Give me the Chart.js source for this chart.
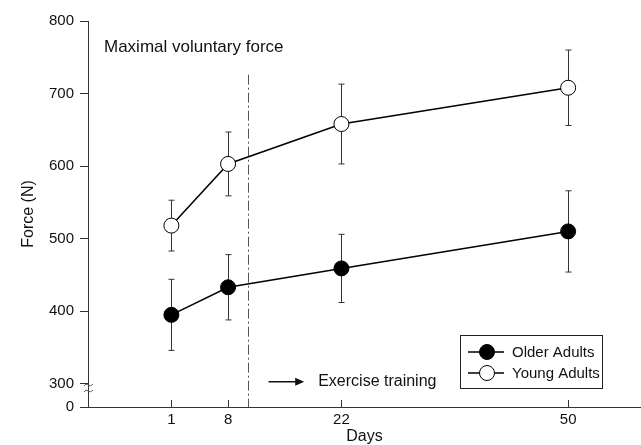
<!DOCTYPE html>
<html>
<head>
<meta charset="utf-8">
<script src="https://cdn.jsdelivr.net/npm/chart.js@4.4.1/dist/chart.umd.min.js"></script>
<style>
    html, body { margin: 0; padding: 0; background: #fff; }
    #wrap { width: 641px; height: 445px; }
</style>
</head>
<body>
<div id="wrap"><canvas id="forceChart" width="641" height="445"></canvas></div>
<script>
// values (Force in N)
const days = [1, 8, 22, 50];
const olderMean = [395, 433, 459, 510];
const olderErr = [49, 45, 47, 56];
const youngMean = [518, 603, 658, 708];
const youngErr = [35, 44, 55, 52];
const yTicks = [300, 400, 500, 600, 700, 800];
const yBreak = 268;          // bottom of the broken axis, labelled "0"
const trainingDay = 10.4;    // dashed marker where training starts
const trainingTop = 726;
const arrowFrom = [13, 300];
const arrowTo = [17.4, 300];

const font = '"Liberation Sans", Arial, sans-serif';
const ink = '#111';
const axisInk = '#333';

const errorBars = {
    id: 'errorBars',
    beforeDatasetsDraw(chart) {
        const ctx = chart.ctx;
        const x = chart.scales.x, y = chart.scales.y;
        const sets = [[olderMean, olderErr], [youngMean, youngErr]];
        ctx.save();
        ctx.strokeStyle = '#333';
        ctx.lineWidth = 1;
        sets.forEach(([mean, err]) => {
            days.forEach((d, i) => {
                const px = Math.round(x.getPixelForValue(d)) + 0.5;
                const top = y.getPixelForValue(mean[i] + err[i]);
                const bot = y.getPixelForValue(mean[i] - err[i]);
                ctx.beginPath();
                ctx.moveTo(px, top); ctx.lineTo(px, bot);
                ctx.moveTo(px - 3, top); ctx.lineTo(px + 3, top);
                ctx.moveTo(px - 3, bot); ctx.lineTo(px + 3, bot);
                ctx.stroke();
            });
        });
        ctx.restore();
    }
};

const extras = {
    id: 'extras',
    beforeDatasetsDraw(chart) {
        const ctx = chart.ctx;
        const x = chart.scales.x, y = chart.scales.y;
        const area = chart.chartArea;
        ctx.save();

        // training start marker
        const tx = Math.round(x.getPixelForValue(trainingDay)) + 0.5;
        ctx.strokeStyle = '#555';
        ctx.lineWidth = 1;
        ctx.setLineDash([10, 3, 2, 3]);
        ctx.beginPath();
        ctx.moveTo(tx, y.getPixelForValue(trainingTop));
        ctx.lineTo(tx, area.bottom);
        ctx.stroke();
        ctx.setLineDash([]);

        // inward x ticks
        ctx.strokeStyle = axisInk;
        days.forEach(d => {
            const px = Math.round(x.getPixelForValue(d)) + 0.5;
            ctx.beginPath();
            ctx.moveTo(px, area.bottom);
            ctx.lineTo(px, area.bottom - 7);
            ctx.stroke();
        });

        // axis break mark
        ctx.strokeStyle = '#555';
        const bx = area.left;
        [385, 391].forEach(by => {
            ctx.beginPath();
            ctx.moveTo(bx - 4, by + 1);
            ctx.bezierCurveTo(bx - 1, by - 4, bx + 1, by + 4, bx + 5, by - 1);
            ctx.stroke();
        });

        // arrow + label
        const ax0 = x.getPixelForValue(arrowFrom[0]);
        const ax1 = x.getPixelForValue(arrowTo[0]);
        const ay = y.getPixelForValue(arrowFrom[1]) - 2;
        ctx.strokeStyle = ink;
        ctx.fillStyle = ink;
        ctx.lineWidth = 1.5;
        ctx.beginPath();
        ctx.moveTo(ax0, ay); ctx.lineTo(ax1 - 4, ay);
        ctx.stroke();
        ctx.beginPath();
        ctx.moveTo(ax1, ay); ctx.lineTo(ax1 - 9, ay - 4); ctx.lineTo(ax1 - 9, ay + 4);
        ctx.closePath();
        ctx.fill();
        ctx.font = '16px ' + font;
        ctx.textBaseline = 'middle';
        ctx.fillText('Exercise training', ax1 + 14, ay);

        // panel heading
        ctx.font = '17px ' + font;
        ctx.fillText('Maximal voluntary force', 104, 47);
        ctx.restore();
    },
    afterDatasetsDraw(chart) {
        // legend box inside the plot
        const ctx = chart.ctx;
        ctx.save();
        ctx.strokeStyle = '#222';
        ctx.lineWidth = 1;
        ctx.strokeRect(460.5, 335.5, 142, 53);
        ctx.font = '15px ' + font;
        ctx.textBaseline = 'middle';
        chart.data.datasets.forEach((ds, i) => {
            const ly = 352 + i * 21;
            ctx.beginPath();
            ctx.moveTo(468, ly); ctx.lineTo(504, ly);
            ctx.strokeStyle = ds.borderColor;
            ctx.lineWidth = 1.5;
            ctx.stroke();
            ctx.beginPath();
            ctx.arc(487, ly, 7.5, 0, Math.PI * 2);
            ctx.fillStyle = ds.pointBackgroundColor;
            ctx.fill();
            ctx.lineWidth = 1;
            ctx.stroke();
            ctx.fillStyle = ink;
            ctx.fillText(ds.label, 512, ly + 1);
        });
        ctx.restore();
    }
};

new Chart(document.getElementById('forceChart'), {
    type: 'line',
    data: {
        datasets: [
            {
                label: 'Older Adults',
                data: days.map((d, i) => ({ x: d, y: olderMean[i] })),
                borderColor: '#000',
                borderWidth: 1.5,
                pointBackgroundColor: '#000',
                pointBorderColor: '#000',
                pointRadius: 7.5,
                pointBorderWidth: 1
            },
            {
                label: 'Young Adults',
                data: days.map((d, i) => ({ x: d, y: youngMean[i] })),
                borderColor: '#000',
                borderWidth: 1.5,
                pointBackgroundColor: '#fff',
                pointBorderColor: '#000',
                pointRadius: 7.5,
                pointBorderWidth: 1
            }
        ]
    },
    options: {
        responsive: false,
        animation: false,
        layout: { autoPadding: false, padding: { top: 21, right: 0, left: 0, bottom: 0 } },
        plugins: {
            legend: { display: false },
            tooltip: { enabled: false }
        },
        scales: {
            x: {
                type: 'linear',
                min: -9.3,
                max: 59,
                afterBuildTicks: scale => { scale.ticks = days.map(v => ({ value: v })); },
                afterFit: scale => {
                    scale.height = 38;
                    scale.paddingLeft = 0;
                    scale.paddingRight = 0;
                },
                grid: { display: false, drawTicks: false },
                border: { display: true, color: axisInk, width: 1 },
                ticks: { color: ink, font: { family: font, size: 15 }, padding: 4, autoSkip: false, maxRotation: 0 },
                title: { display: true, text: 'Days', color: ink, font: { family: font, size: 16, lineHeight: 1 }, padding: { top: 0, bottom: 0 } }
            },
            y: {
                min: yBreak,
                max: 800,
                afterBuildTicks: scale => { scale.ticks = [yBreak, ...yTicks].map(v => ({ value: v })); },
                afterFit: scale => { scale.width = 88; },
                grid: { display: true, drawOnChartArea: false, drawTicks: true, tickLength: 8, color: axisInk },
                border: { display: true, color: axisInk, width: 1 },
                ticks: {
                    color: ink,
                    font: { family: font, size: 15 },
                    padding: 6,
                    autoSkip: false,
                    callback: v => (v === yBreak ? '0' : v)
                },
                title: { display: true, text: 'Force (N)', color: ink, font: { family: font, size: 16 }, padding: { top: 19, bottom: 0 } }
            }
        }
    },
    plugins: [errorBars, extras]
});
</script>
</body>
</html>
